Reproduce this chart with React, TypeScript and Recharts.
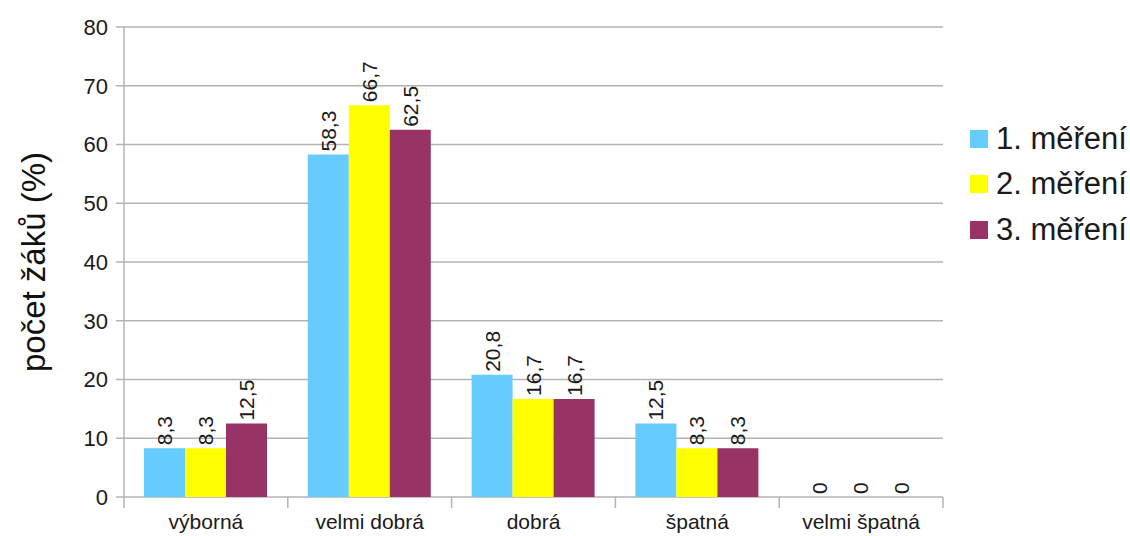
import { BarChart, Bar, XAxis, YAxis, CartesianGrid, Legend, LabelList } from "recharts";

const categories = ["výborná", "velmi dobrá", "dobrá", "špatná", "velmi špatná"];
const mereni1 = [8.3, 58.3, 20.8, 12.5, 0];
const mereni2 = [8.3, 66.7, 16.7, 8.3, 0];
const mereni3 = [12.5, 62.5, 16.7, 8.3, 0];
const seriesNames = ["1. měření", "2. měření", "3. měření"];
const seriesColors = ["#66ccff", "#ffff00", "#993366"];
const yTicks = [0, 10, 20, 30, 40, 50, 60, 70, 80];

const GRID = "#b3b3b3";
const TXT = "#1a1a1a";
const FONT = "'Liberation Sans', Arial, sans-serif";
const BAND = (943 - 124) / categories.length;

const data = categories.map((c, i) => ({
  name: c,
  m1: mereni1[i],
  m2: mereni2[i],
  m3: mereni3[i],
}));

const fmt = (v: number) => String(v).replace(".", ",");

// zero-height bars still need their "0" label
const minSize = (v: any) => (v === 0 ? 0.01 : 0);

function RotLabel(props: any) {
  const { x, y, width, value } = props;
  const cx = x + width / 2;
  const ty = y - 3;
  return (
    <text
      x={cx}
      y={ty}
      transform={`rotate(-90, ${cx}, ${ty})`}
      textAnchor="start"
      dominantBaseline="central"
      fontSize={21}
      fill={TXT}
      fontFamily={FONT}
    >
      {fmt(value)}
    </text>
  );
}

function CatTick(props: any) {
  const { x, y, payload, index } = props;
  const left = x - BAND / 2;
  return (
    <g>
      <line x1={left} y1={y - 8} x2={left} y2={y + 3} stroke={GRID} strokeWidth={1.5} />
      {index === categories.length - 1 && (
        <line x1={x + BAND / 2} y1={y - 8} x2={x + BAND / 2} y2={y + 3} stroke={GRID} strokeWidth={1.5} />
      )}
      <text x={x} y={y + 24} textAnchor="middle" fontSize={21} fill={TXT} fontFamily={FONT}>
        {payload.value}
      </text>
    </g>
  );
}

function LegendBox() {
  return (
    <div style={{ fontFamily: FONT, width: 200 }}>
      {seriesNames.map((n, i) => (
        <div key={n} style={{ display: "flex", alignItems: "center", height: 45.5, whiteSpace: "nowrap" }}>
          <span
            style={{
              display: "inline-block",
              flexShrink: 0,
              width: 18,
              height: 18,
              background: seriesColors[i],
              marginRight: 8,
            }}
          />
          <span style={{ fontSize: 31, color: TXT }}>{n}</span>
        </div>
      ))}
    </div>
  );
}

export default function App() {
  return (
    <div style={{ position: "absolute", left: 0, top: 0, background: "#fff" }}>
      <BarChart
        width={1130}
        height={536}
        data={data}
        margin={{ top: 27, right: 187, bottom: 9, left: 0 }}
        barCategoryGap={20}
        barGap={0}
      >
        <CartesianGrid vertical={false} stroke={GRID} strokeWidth={1.5} />
        <XAxis
          dataKey="name"
          height={30}
          axisLine={false}
          tickLine={false}
          tick={<CatTick />}
          interval={0}
        />
        <YAxis
          width={124}
          domain={[0, 80]}
          ticks={yTicks}
          tickSize={8}
          tickMargin={8}
          axisLine={{ stroke: GRID, strokeWidth: 1.5 }}
          tickLine={{ stroke: GRID, strokeWidth: 1.5 }}
          tick={{ fontSize: 22, fill: TXT, fontFamily: FONT }}
          label={{
            content: (p: any) => {
              const vb = p.viewBox;
              const lx = vb.x + 33;
              const ly = vb.y + vb.height / 2;
              return (
                <text
                  x={lx}
                  y={ly}
                  transform={`rotate(-90, ${lx}, ${ly})`}
                  textAnchor="middle"
                  dominantBaseline="central"
                  fontSize={33}
                  fill="#111"
                  fontFamily={FONT}
                >
                  počet žáků (%)
                </text>
              );
            },
          }}
        />
        <YAxis
          yAxisId="r"
          orientation="right"
          width={0}
          domain={[0, 80]}
          tick={false}
          tickLine={false}
          axisLine={{ stroke: GRID, strokeWidth: 1.5 }}
        />
        <Legend
          content={<LegendBox />}
          wrapperStyle={{ position: "absolute", left: 970, top: 116, width: 0, height: 0 }}
        />
        <Bar dataKey="m1" name={seriesNames[0]} fill={seriesColors[0]} minPointSize={minSize} isAnimationActive={false}>
          <LabelList dataKey="m1" content={<RotLabel />} />
        </Bar>
        <Bar dataKey="m2" name={seriesNames[1]} fill={seriesColors[1]} minPointSize={minSize} isAnimationActive={false}>
          <LabelList dataKey="m2" content={<RotLabel />} />
        </Bar>
        <Bar dataKey="m3" name={seriesNames[2]} fill={seriesColors[2]} minPointSize={minSize} isAnimationActive={false}>
          <LabelList dataKey="m3" content={<RotLabel />} />
        </Bar>
      </BarChart>
    </div>
  );
}
